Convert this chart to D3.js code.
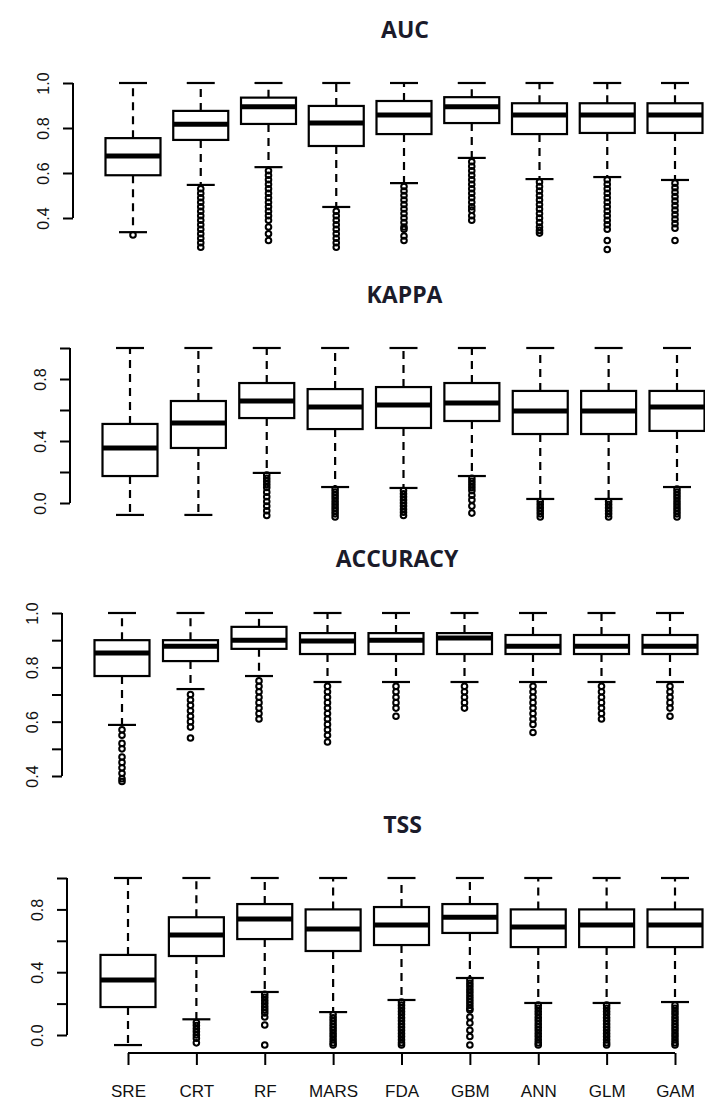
<!DOCTYPE html>
<html>
<head>
<meta charset="utf-8">
<script src="https://cdn.jsdelivr.net/npm/d3@7"></script>
<style>
  body { margin: 0; background: #fff; }
  svg { display: block; }
</style>
</head>
<body>
<svg id="chart" width="705" height="1101"></svg>
<script>
const methods = ['SRE', 'CRT', 'RF', 'MARS', 'FDA', 'GBM', 'ANN', 'GLM', 'GAM']

// AUC
const aucHi  = [1.0, 1.0, 1.0, 1.0, 1.0, 1.0, 1.0, 1.0, 1.0]
const aucQ3  = [0.755, 0.876, 0.935, 0.898, 0.92, 0.937, 0.91, 0.91, 0.91]
const aucMed = [0.676, 0.817, 0.894, 0.822, 0.858, 0.894, 0.858, 0.858, 0.858]
const aucQ1  = [0.59, 0.747, 0.818, 0.72, 0.773, 0.822, 0.773, 0.778, 0.778]
const aucLo  = [0.337, 0.547, 0.626, 0.449, 0.555, 0.667, 0.573, 0.582, 0.569]
const aucOut = [
  [0.325],
  [0.53, 0.51, 0.49, 0.47, 0.45, 0.43, 0.41, 0.39, 0.37, 0.35, 0.33, 0.31, 0.29, 0.27],
  [0.61, 0.59, 0.57, 0.55, 0.53, 0.51, 0.49, 0.47, 0.45, 0.43, 0.41, 0.39, 0.36, 0.33, 0.30],
  [0.43, 0.41, 0.39, 0.37, 0.35, 0.33, 0.31, 0.29, 0.27],
  [0.54, 0.52, 0.50, 0.48, 0.46, 0.44, 0.42, 0.40, 0.38, 0.36, 0.35, 0.32, 0.30],
  [0.65, 0.63, 0.61, 0.59, 0.57, 0.55, 0.53, 0.51, 0.49, 0.47, 0.45, 0.435, 0.41, 0.39],
  [0.56, 0.54, 0.52, 0.50, 0.48, 0.46, 0.44, 0.42, 0.40, 0.38, 0.36, 0.345, 0.333],
  [0.57, 0.55, 0.53, 0.51, 0.49, 0.47, 0.45, 0.43, 0.41, 0.39, 0.37, 0.35, 0.30, 0.26],
  [0.555, 0.535, 0.515, 0.495, 0.475, 0.455, 0.435, 0.415, 0.395, 0.375, 0.355, 0.30]
]

// KAPPA
const kapHi  = [1.0, 1.0, 1.0, 1.0, 1.0, 1.0, 1.0, 1.0, 1.0]
const kapQ3  = [0.51, 0.658, 0.774, 0.735, 0.748, 0.774, 0.723, 0.723, 0.723]
const kapMed = [0.355, 0.516, 0.658, 0.62, 0.632, 0.645, 0.594, 0.594, 0.62]
const kapQ1  = [0.174, 0.355, 0.548, 0.477, 0.484, 0.529, 0.445, 0.445, 0.465]
const kapLo  = [-0.077, -0.077, 0.194, 0.103, 0.097, 0.174, 0.026, 0.026, 0.103]
const kapOut = [
  [],
  [],
  [0.18, 0.16, 0.14, 0.12, 0.10, 0.07, 0.04, 0.01, -0.02, -0.05, -0.08],
  [0.09, 0.07, 0.05, 0.03, 0.01, -0.01, -0.03, -0.05, -0.07, -0.09],
  [0.08, 0.06, 0.04, 0.02, 0.00, -0.02, -0.04, -0.06, -0.08],
  [0.16, 0.14, 0.12, 0.10, 0.08, 0.05, 0.02, -0.02, -0.065],
  [0.01, -0.01, -0.03, -0.05, -0.07, -0.09],
  [0.01, -0.01, -0.03, -0.05, -0.07, -0.09],
  [0.09, 0.07, 0.05, 0.03, 0.01, -0.01, -0.03, -0.05, -0.07, -0.09]
]

// ACCURACY
const accHi  = [1.0, 1.0, 1.0, 1.0, 1.0, 1.0, 1.0, 1.0, 1.0]
const accQ3  = [0.90, 0.90, 0.949, 0.926, 0.926, 0.926, 0.919, 0.919, 0.919]
const accMed = [0.853, 0.878, 0.90, 0.897, 0.90, 0.908, 0.878, 0.878, 0.878]
const accQ1  = [0.768, 0.823, 0.868, 0.849, 0.849, 0.849, 0.849, 0.849, 0.849]
const accLo  = [0.588, 0.72, 0.768, 0.746, 0.746, 0.746, 0.746, 0.746, 0.746]
const accOut = [
  [0.57, 0.55, 0.52, 0.50, 0.47, 0.45, 0.43, 0.41, 0.39, 0.38],
  [0.70, 0.68, 0.66, 0.64, 0.62, 0.60, 0.58, 0.54],
  [0.75, 0.73, 0.71, 0.69, 0.67, 0.65, 0.63, 0.61],
  [0.73, 0.71, 0.69, 0.67, 0.65, 0.63, 0.61, 0.59, 0.57, 0.55, 0.525],
  [0.73, 0.71, 0.69, 0.67, 0.65, 0.62],
  [0.73, 0.71, 0.69, 0.67, 0.65],
  [0.73, 0.71, 0.69, 0.67, 0.65, 0.63, 0.61, 0.59, 0.56],
  [0.73, 0.71, 0.69, 0.67, 0.65, 0.63, 0.61],
  [0.73, 0.71, 0.69, 0.67, 0.65, 0.62]
]

// TSS
const tssHi  = [1.0, 1.0, 1.0, 1.0, 1.0, 1.0, 1.0, 1.0, 1.0]
const tssQ3  = [0.51, 0.75, 0.834, 0.80, 0.815, 0.834, 0.80, 0.80, 0.80]
const tssMed = [0.35, 0.637, 0.739, 0.675, 0.70, 0.75, 0.688, 0.70, 0.70]
const tssQ1  = [0.178, 0.503, 0.611, 0.535, 0.573, 0.65, 0.56, 0.56, 0.56]
const tssLo  = [-0.064, 0.10, 0.274, 0.146, 0.223, 0.363, 0.204, 0.204, 0.21]
const tssOut = [
  [],
  [0.08, 0.06, 0.04, 0.02, 0.00, -0.02, -0.05],
  [0.26, 0.24, 0.22, 0.20, 0.18, 0.16, 0.14, 0.115, 0.064, -0.064],
  [0.13, 0.11, 0.09, 0.07, 0.05, 0.03, 0.01, -0.01, -0.03, -0.05, -0.064],
  [0.21, 0.19, 0.17, 0.15, 0.13, 0.11, 0.09, 0.07, 0.05, 0.03, 0.01, -0.01, -0.03, -0.05, -0.064],
  [0.35, 0.33, 0.31, 0.29, 0.27, 0.25, 0.23, 0.21, 0.19, 0.17, 0.159, 0.115, 0.076, 0.03, -0.01, -0.064],
  [0.19, 0.17, 0.15, 0.13, 0.11, 0.09, 0.07, 0.05, 0.03, 0.01, -0.01, -0.03, -0.05, -0.064],
  [0.19, 0.17, 0.15, 0.13, 0.11, 0.09, 0.07, 0.05, 0.03, 0.01, -0.01, -0.03, -0.05, -0.064],
  [0.19, 0.17, 0.15, 0.13, 0.11, 0.09, 0.07, 0.05, 0.03, 0.01, -0.01, -0.03, -0.05, -0.064]
]

const panels = [
  { title: 'AUC', titleY: 38, axisX: 73, xr: [133, 675], dom: [0.4, 1.0], yr: [218, 83],
    ticks: [0.4, 0.6, 0.8, 1.0], labels: [0.4, 0.6, 0.8, 1.0],
    hi: aucHi, q3: aucQ3, med: aucMed, q1: aucQ1, lo: aucLo, out: aucOut },
  { title: 'KAPPA', titleY: 303, axisX: 70, xr: [130, 677], dom: [0, 1], yr: [503, 348],
    ticks: [0, 0.2, 0.4, 0.6, 0.8, 1.0], labels: [0, 0.4, 0.8],
    hi: kapHi, q3: kapQ3, med: kapMed, q1: kapQ1, lo: kapLo, out: kapOut },
  { title: 'ACCURACY', titleY: 567, axisX: 62, xr: [122, 670], dom: [0.4, 1.0], yr: [776, 613],
    ticks: [0.4, 0.5, 0.6, 0.7, 0.8, 0.9, 1.0], labels: [0.4, 0.6, 0.8, 1.0],
    hi: accHi, q3: accQ3, med: accMed, q1: accQ1, lo: accLo, out: accOut },
  { title: 'TSS', titleY: 833, axisX: 67, xr: [128, 675], dom: [0, 1], yr: [1035, 878],
    ticks: [0, 0.2, 0.4, 0.6, 0.8, 1.0], labels: [0, 0.4, 0.8], xAxisY: 1053,
    hi: tssHi, q3: tssQ3, med: tssMed, q1: tssQ1, lo: tssLo, out: tssOut }
]

const svg = d3.select('#chart')
svg.append('rect').attr('width', 705).attr('height', 1101).attr('fill', '#fff')

const boxW = 55
const stapleW = 28
const fmt = d3.format('.1f')

panels.forEach(p => {
  const x = d3.scalePoint().domain(methods).range(p.xr)
  const y = d3.scaleLinear().domain(p.dom).range(p.yr)
  const g = svg.append('g')

  // title, centred over the R plot region
  g.append('text')
    .attr('x', (p.xr[0] + p.xr[1]) / 2 + 1)
    .attr('y', p.titleY)
    .attr('text-anchor', 'middle')
    .attr('font-family', '"Open Sans", "Noto Sans", sans-serif')
    .attr('font-weight', 'bold')
    .attr('font-size', 23)
    .attr('fill', '#1b1b2a')
    .text(p.title)

  // y axis
  const yAxis = d3.axisLeft(y).tickValues(p.ticks).tickSize(10).tickSizeOuter(0)
    .tickFormat(d => p.labels.some(l => Math.abs(l - d) < 1e-9) ? fmt(d) : '')
  const ax = g.append('g').attr('transform', `translate(${p.axisX},0)`).call(yAxis)
  ax.select('.domain').attr('stroke', '#000').attr('stroke-width', 2)
    .attr('d', `M0,${y(d3.min(p.ticks))}V${y(d3.max(p.ticks))}`)
  ax.selectAll('.tick line').attr('stroke', '#000').attr('stroke-width', 2)
  ax.selectAll('.tick text')
    .attr('font-family', '"Liberation Sans", Arial, sans-serif')
    .attr('font-size', 16)
    .attr('fill', '#111')
    .attr('x', null).attr('dy', null)
    .attr('text-anchor', 'middle')
    .attr('transform', 'translate(-24,0) rotate(-90)')

  methods.forEach((m, i) => {
    const cx = x(m)
    const b = g.append('g')
    // whiskers
    b.append('line').attr('x1', cx).attr('x2', cx).attr('y1', y(p.q3[i])).attr('y2', y(p.hi[i]))
      .attr('stroke', '#000').attr('stroke-width', 2.2).attr('stroke-dasharray', '8,6')
    b.append('line').attr('x1', cx).attr('x2', cx).attr('y1', y(p.q1[i])).attr('y2', y(p.lo[i]))
      .attr('stroke', '#000').attr('stroke-width', 2.2).attr('stroke-dasharray', '8,6')
    // staples
    ;[p.hi[i], p.lo[i]].forEach(v => {
      b.append('line').attr('x1', cx - stapleW / 2).attr('x2', cx + stapleW / 2)
        .attr('y1', y(v)).attr('y2', y(v)).attr('stroke', '#000').attr('stroke-width', 2.2)
    })
    // box
    b.append('rect').attr('x', cx - boxW / 2).attr('width', boxW)
      .attr('y', y(p.q3[i])).attr('height', y(p.q1[i]) - y(p.q3[i]))
      .attr('fill', '#fff').attr('stroke', '#000').attr('stroke-width', 2.2)
    // median
    b.append('line').attr('x1', cx - boxW / 2).attr('x2', cx + boxW / 2)
      .attr('y1', y(p.med[i])).attr('y2', y(p.med[i]))
      .attr('stroke', '#000').attr('stroke-width', 5)
    // outliers
    b.selectAll('circle').data(p.out[i]).join('circle')
      .attr('cx', cx).attr('cy', d => y(d)).attr('r', 2.8)
      .attr('fill', 'none').attr('stroke', '#000').attr('stroke-width', 2)
  })

  if (p.xAxisY) {
    const xAxis = d3.axisBottom(x).tickSize(12).tickSizeOuter(0).tickPadding(20)
    const xa = g.append('g').attr('transform', `translate(0,${p.xAxisY})`).call(xAxis)
    xa.select('.domain').attr('stroke', '#000').attr('stroke-width', 2)
      .attr('d', `M${p.xr[0]},0H${p.xr[1]}`)
    xa.selectAll('.tick line').attr('stroke', '#000').attr('stroke-width', 2)
    xa.selectAll('.tick text')
      .attr('font-family', '"Liberation Sans", Arial, sans-serif')
      .attr('font-size', 17).attr('fill', '#111')
  }
})
</script>
</body>
</html>
